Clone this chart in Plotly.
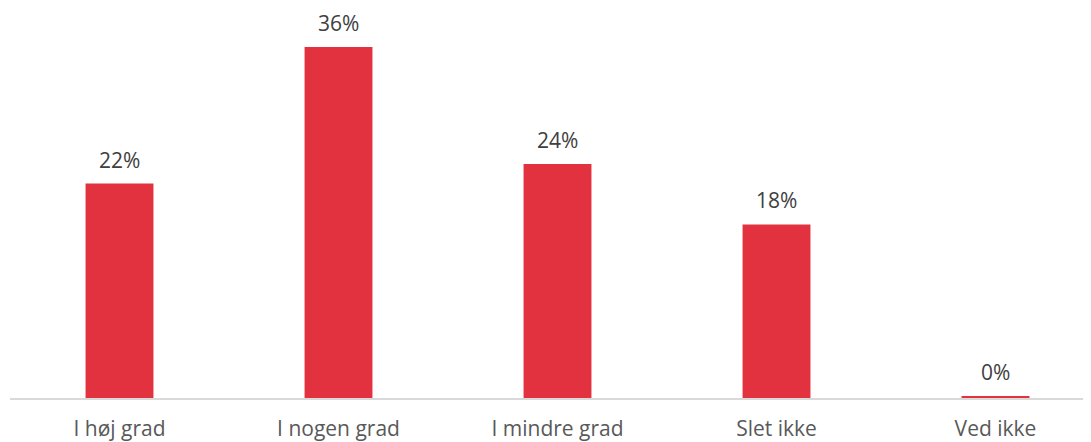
import plotly.graph_objects as go

categories = ["I høj grad", "I nogen grad", "I mindre grad", "Slet ikke", "Ved ikke"]
values = [22, 36, 24, 17.8, 0.2]
labels = ["22%", "36%", "24%", "18%", "0%"]

BAR = "#E3323F"

fig = go.Figure()
fig.add_trace(go.Bar(
    x=categories, y=values, marker=dict(color=BAR, line=dict(width=0)),
    width=0.31, hoverinfo="skip",
))
for c, v, t in zip(categories, values, labels):
    fig.add_annotation(x=c, y=v, text=t, showarrow=False, yanchor="bottom",
                       yshift=8, font=dict(family="Open Sans", size=21, color="#404040"))

# page body has an 8px default margin, so the figure is offset by 8px
fig.update_layout(
    width=1083, height=434,
    margin=dict(l=2, r=0, t=0, b=42),
    paper_bgcolor="white", plot_bgcolor="white",
    showlegend=False,
    font=dict(family="Open Sans", size=21, color="#595959"),
    xaxis=dict(type="category", range=[-0.5, 4.436], showgrid=False, zeroline=False,
               showline=True, linecolor="#D9D9D9", linewidth=1.5, ticks="",
               ticklabelstandoff=11,
               tickfont=dict(family="Open Sans", size=21, color="#595959")),
    yaxis=dict(range=[0, 40.0], visible=False, showgrid=False, zeroline=False),
)
fig.write_html("out.html")
